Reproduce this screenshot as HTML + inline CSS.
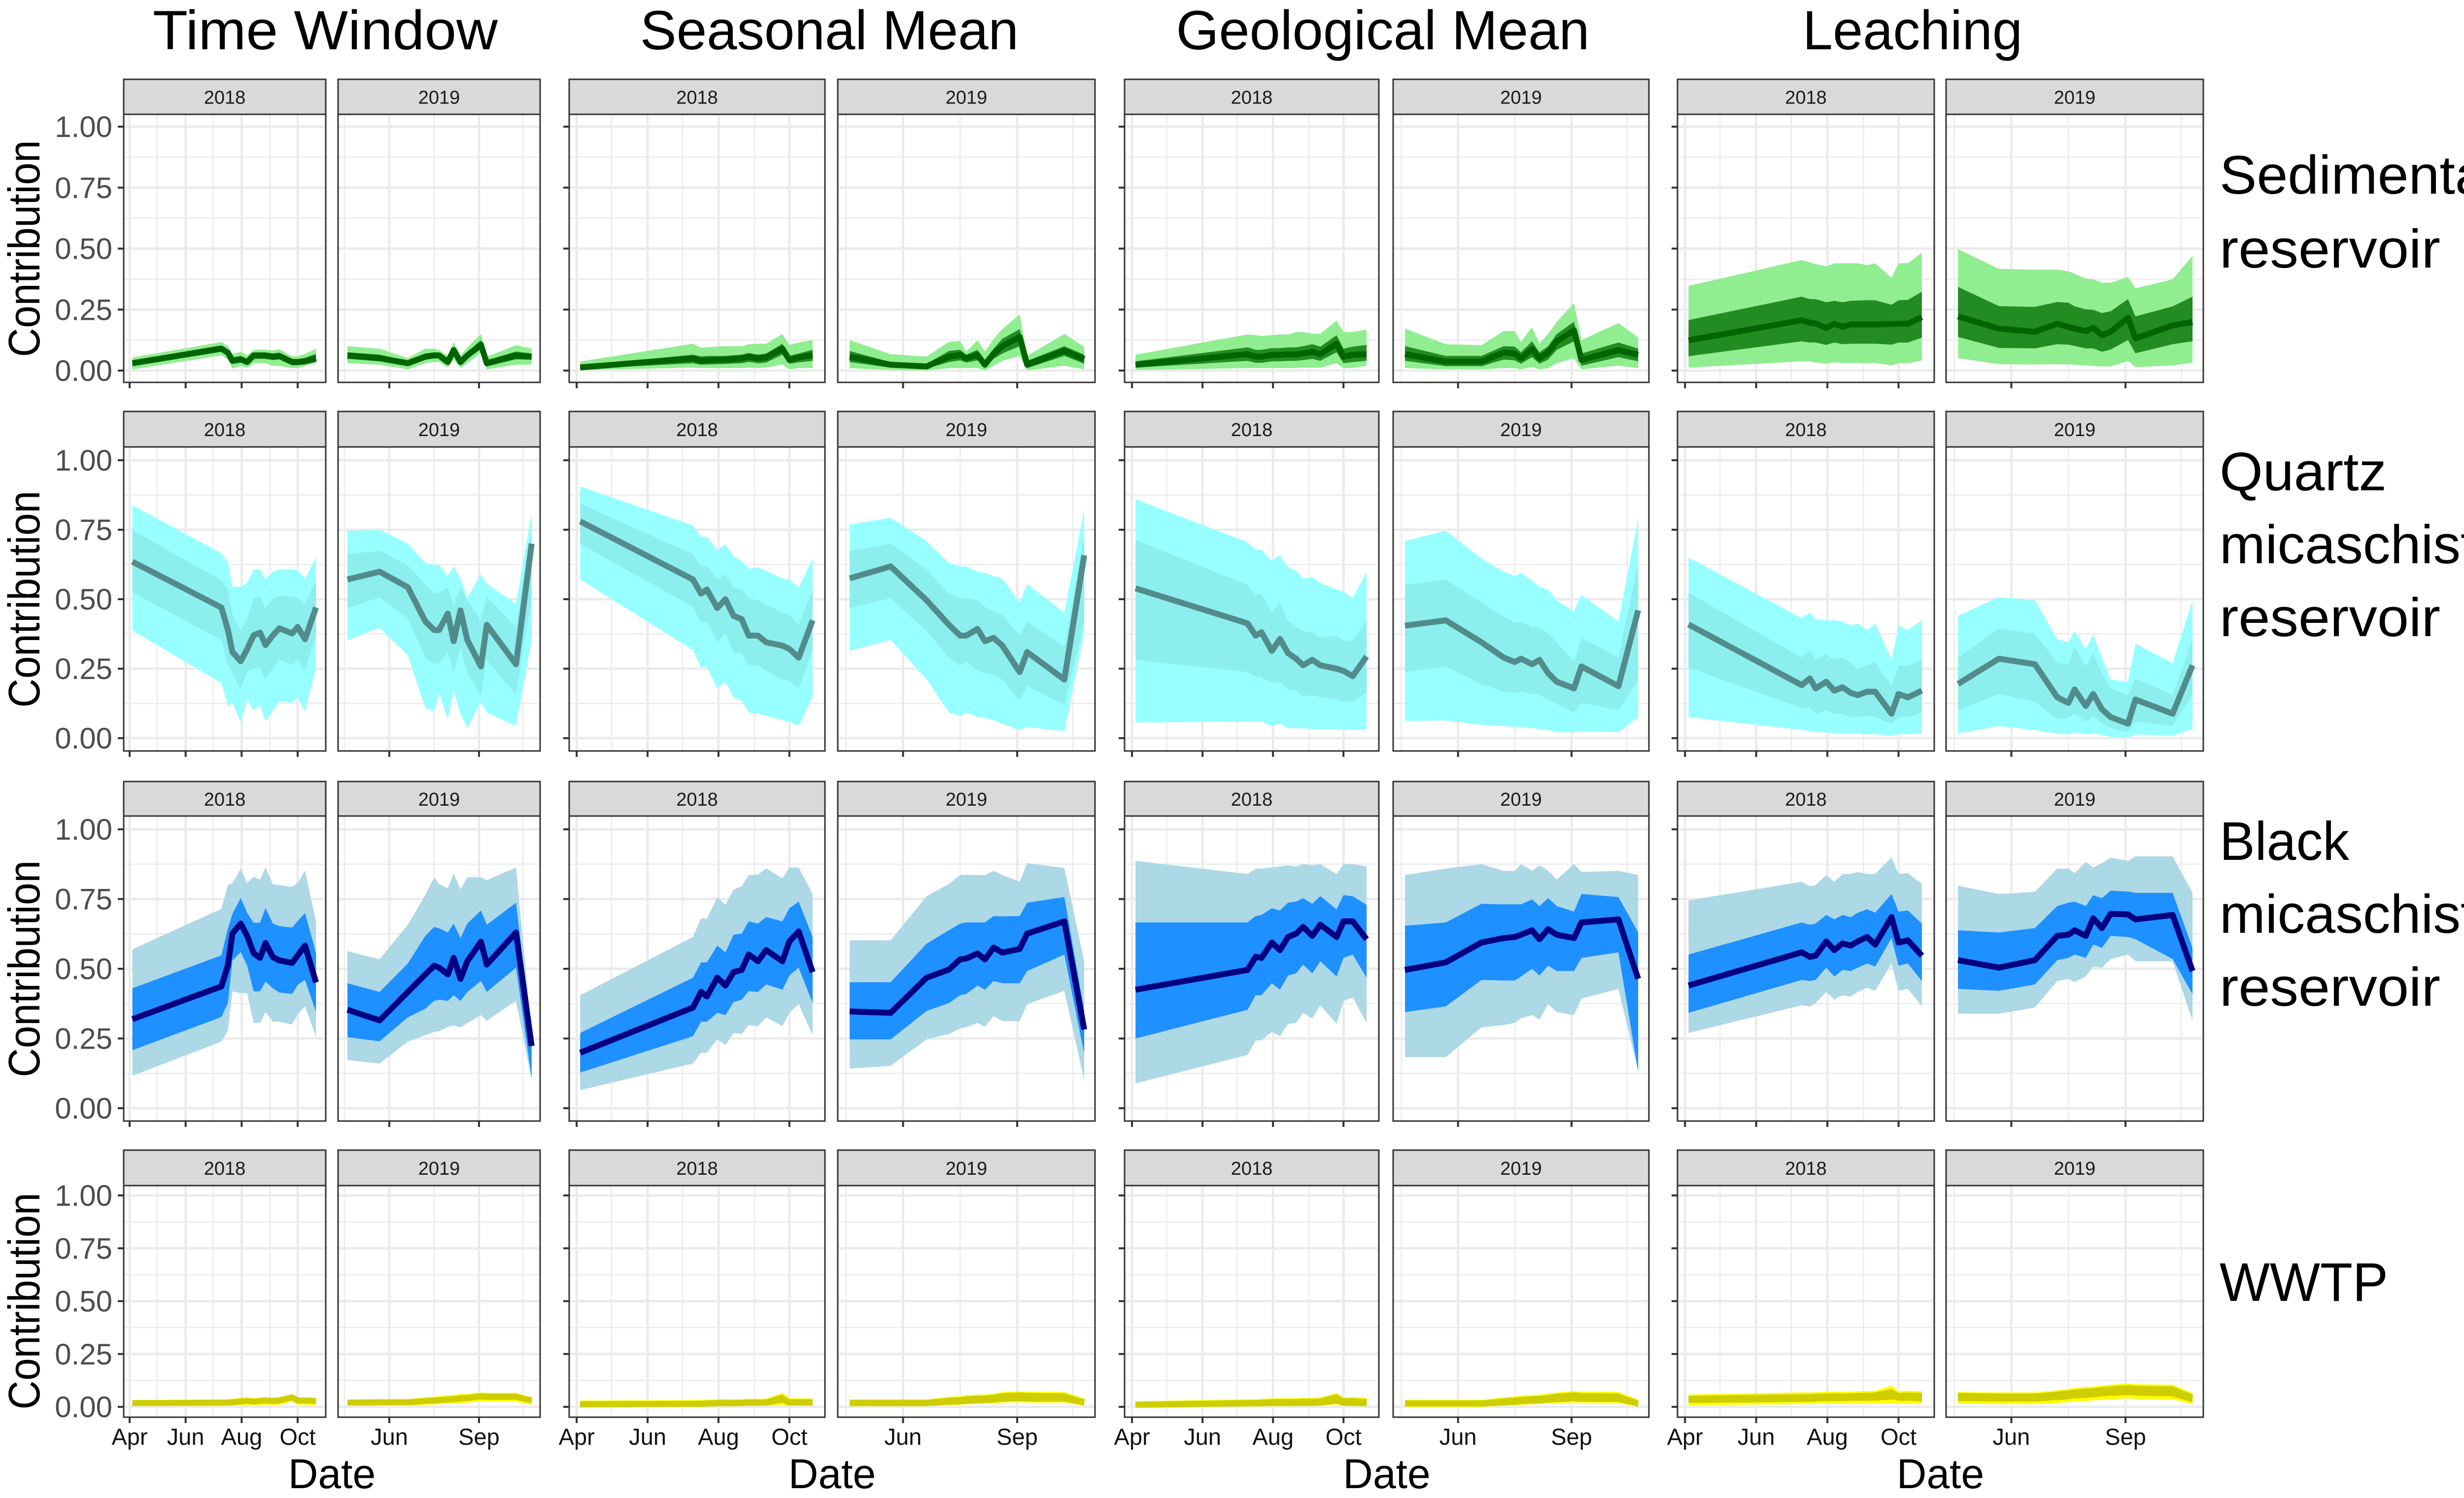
<!DOCTYPE html>
<html>
<head>
<meta charset="utf-8">
<style>
html,body{margin:0;padding:0;background:#fff;}
svg{display:block;}
text{font-family:"Liberation Sans",Arial,sans-serif;}
</style>
</head>
<body>
<svg id="chart" xmlns="http://www.w3.org/2000/svg" width="5160" height="3040" viewBox="0 0 5160 3040">
<rect x="0" y="0" width="5160" height="3040" fill="#ffffff"/>
<g id="titles">
<text x="660" y="100" font-size="112" text-anchor="middle" textLength="700" lengthAdjust="spacingAndGlyphs">Time Window</text>
<text x="1683" y="100" font-size="112" text-anchor="middle" textLength="768" lengthAdjust="spacingAndGlyphs">Seasonal Mean</text>
<text x="2806" y="100" font-size="112" text-anchor="middle" textLength="839" lengthAdjust="spacingAndGlyphs">Geological Mean</text>
<text x="3881" y="100" font-size="112" text-anchor="middle" textLength="446" lengthAdjust="spacingAndGlyphs">Leaching</text>
</g>
<g id="rowlabels" font-size="110">
<text x="4504" y="393" textLength="635" lengthAdjust="spacingAndGlyphs">Sedimentary</text>
<text x="4504" y="543" textLength="448" lengthAdjust="spacingAndGlyphs">reservoir</text>
<text x="4504" y="995" textLength="339" lengthAdjust="spacingAndGlyphs">Quartz</text>
<text x="4504" y="1143" textLength="520" lengthAdjust="spacingAndGlyphs">micaschist</text>
<text x="4504" y="1291" textLength="448" lengthAdjust="spacingAndGlyphs">reservoir</text>
<text x="4504" y="1745" textLength="263" lengthAdjust="spacingAndGlyphs">Black</text>
<text x="4504" y="1893" textLength="520" lengthAdjust="spacingAndGlyphs">micaschist</text>
<text x="4504" y="2041" textLength="448" lengthAdjust="spacingAndGlyphs">reservoir</text>
<text x="4504" y="2640" textLength="342" lengthAdjust="spacingAndGlyphs">WWTP</text>
</g>
</svg>
<script>
// ---------- data ----------
const dates2018 = [93,190,197,202,211,218,225,232,238,246,253,267,273,281,293];
const dates2019 = [108,141,170,188,197,202,211,217,224,231,245,251,281,297];
const yTickValues = [0,0.25,0.5,0.75,1];
const yTickLabels = ["0.00","0.25","0.50","0.75","1.00"];
const xBreaks2018 = [90,151,212,273];
const xBreakLabels2018 = ["Apr","Jun","Aug","Oct"];
const xMinor2018 = [120,181,243];
const xBreaks2019 = [151,243];
const xBreakLabels2019 = ["Jun","Sep"];
const xMinor2019 = [105,197,288];
const stripLabels = ["2018","2019"];

// Sedimentary reservoir
const sedTW18med=[0.03,0.09,0.073,0.04,0.046,0.035,0.062,0.062,0.062,0.057,0.06,0.035,0.035,0.038,0.051];
const sedTW18ihi=[0.042,0.103,0.087,0.054,0.06,0.048,0.074,0.074,0.074,0.07,0.073,0.047,0.047,0.052,0.068];
const sedTW18ilo=[0.018,0.077,0.06,0.027,0.033,0.023,0.048,0.048,0.048,0.043,0.046,0.022,0.022,0.025,0.036];
const sedTW18ohi=[0.054,0.117,0.10,0.068,0.076,0.063,0.084,0.086,0.086,0.082,0.088,0.057,0.059,0.068,0.09];
const sedTW18olo=[0.005,0.062,0.046,0.008,0.019,0.011,0.03,0.03,0.03,0.019,0.019,0.01,0.01,0.019,0.03];
const sedTW19med=[0.062,0.051,0.03,0.057,0.062,0.062,0.035,0.084,0.035,0.062,0.106,0.03,0.062,0.057];
const sedTW19ihi=[0.075,0.065,0.04,0.07,0.075,0.073,0.047,0.098,0.047,0.075,0.125,0.042,0.078,0.07];
const sedTW19ilo=[0.048,0.038,0.018,0.044,0.05,0.05,0.023,0.068,0.022,0.048,0.088,0.017,0.046,0.044];
const sedTW19ohi=[0.10,0.09,0.051,0.09,0.09,0.084,0.062,0.117,0.062,0.095,0.15,0.057,0.104,0.09];
const sedTW19olo=[0.03,0.024,0.005,0.03,0.035,0.035,0.013,0.046,0.01,0.03,0.073,0.005,0.024,0.024];
const sedSM18med=[0.013,0.05,0.04,0.042,0.044,0.045,0.047,0.05,0.057,0.05,0.054,0.09,0.044,0.054,0.064];
const sedSM18ihi=[0.02,0.065,0.058,0.06,0.06,0.06,0.063,0.065,0.072,0.065,0.07,0.11,0.06,0.07,0.085];
const sedSM18ilo=[0.006,0.03,0.024,0.025,0.026,0.027,0.029,0.03,0.036,0.03,0.033,0.065,0.028,0.034,0.04];
const sedSM18ohi=[0.037,0.11,0.094,0.096,0.098,0.10,0.10,0.10,0.108,0.11,0.11,0.15,0.105,0.115,0.125];
const sedSM18olo=[0.002,0.012,0.01,0.01,0.01,0.01,0.01,0.01,0.012,0.01,0.012,0.025,0.005,0.01,0.01];
const sedSM19med=[0.057,0.024,0.017,0.057,0.064,0.05,0.064,0.024,0.07,0.10,0.138,0.024,0.081,0.047];
const sedSM19ihi=[0.08,0.035,0.028,0.08,0.085,0.065,0.085,0.04,0.09,0.13,0.17,0.04,0.10,0.065];
const sedSM19ilo=[0.035,0.012,0.008,0.035,0.042,0.033,0.042,0.01,0.048,0.07,0.1,0.01,0.06,0.028];
const sedSM19ohi=[0.125,0.067,0.057,0.118,0.121,0.077,0.125,0.077,0.13,0.17,0.23,0.06,0.15,0.098];
const sedSM19olo=[0.01,0.002,0.0,0.01,0.01,0.01,0.01,0.0,0.02,0.04,0.06,0.0,0.02,0.005];
const sedGM18med=[0.024,0.067,0.057,0.057,0.064,0.064,0.067,0.065,0.07,0.077,0.067,0.11,0.057,0.064,0.067];
const sedGM18ihi=[0.038,0.095,0.085,0.085,0.092,0.092,0.095,0.095,0.1,0.108,0.098,0.145,0.09,0.098,0.105];
const sedGM18ilo=[0.012,0.04,0.032,0.032,0.038,0.038,0.04,0.04,0.043,0.048,0.04,0.075,0.03,0.035,0.04];
const sedGM18ohi=[0.065,0.148,0.145,0.142,0.145,0.148,0.148,0.158,0.158,0.151,0.151,0.205,0.158,0.158,0.168];
const sedGM18olo=[0.002,0.01,0.01,0.01,0.01,0.01,0.01,0.01,0.012,0.012,0.012,0.03,0.01,0.01,0.02];
const sedGM19med=[0.067,0.037,0.037,0.074,0.07,0.05,0.088,0.05,0.074,0.12,0.165,0.044,0.084,0.064];
const sedGM19ihi=[0.1,0.06,0.06,0.1,0.098,0.075,0.12,0.075,0.1,0.15,0.2,0.07,0.115,0.09];
const sedGM19ilo=[0.04,0.018,0.018,0.045,0.042,0.028,0.055,0.028,0.045,0.085,0.12,0.02,0.055,0.038];
const sedGM19ohi=[0.172,0.108,0.104,0.162,0.162,0.118,0.178,0.11,0.15,0.2,0.276,0.125,0.195,0.135];
const sedGM19olo=[0.01,0.005,0.005,0.01,0.01,0.005,0.015,0.005,0.01,0.03,0.05,0.005,0.02,0.01];
const sedL18med=[0.124,0.206,0.196,0.193,0.175,0.192,0.18,0.189,0.189,0.189,0.189,0.191,0.192,0.192,0.219];
const sedL18ihi=[0.207,0.303,0.293,0.293,0.28,0.286,0.28,0.286,0.287,0.288,0.288,0.27,0.288,0.29,0.323];
const sedL18ilo=[0.059,0.12,0.115,0.115,0.105,0.115,0.108,0.11,0.11,0.11,0.11,0.106,0.115,0.115,0.135];
const sedL18ohi=[0.347,0.453,0.444,0.437,0.427,0.44,0.44,0.44,0.44,0.432,0.44,0.38,0.44,0.44,0.483];
const sedL18olo=[0.012,0.038,0.038,0.033,0.028,0.034,0.031,0.031,0.031,0.031,0.031,0.021,0.03,0.03,0.041];
const sedL19med=[0.222,0.172,0.159,0.192,0.179,0.172,0.162,0.175,0.145,0.159,0.216,0.132,0.185,0.199];
const sedL19ihi=[0.343,0.264,0.261,0.281,0.278,0.263,0.251,0.249,0.236,0.243,0.293,0.222,0.263,0.303];
const sedL19ilo=[0.138,0.093,0.091,0.108,0.106,0.101,0.091,0.091,0.077,0.086,0.125,0.071,0.108,0.12];
const sedL19ohi=[0.498,0.417,0.414,0.414,0.407,0.397,0.377,0.374,0.36,0.36,0.384,0.337,0.374,0.471];
const sedL19olo=[0.051,0.026,0.025,0.026,0.025,0.024,0.021,0.019,0.017,0.017,0.039,0.014,0.021,0.032];

// Quartz micaschist reservoir
const qmsTW18med=[0.635,0.47,0.39,0.31,0.277,0.32,0.37,0.38,0.335,0.37,0.395,0.377,0.40,0.356,0.47];
const qmsTW18ihi=[0.748,0.568,0.533,0.444,0.388,0.427,0.503,0.511,0.466,0.503,0.511,0.51,0.506,0.48,0.568];
const qmsTW18ilo=[0.525,0.353,0.268,0.233,0.176,0.242,0.25,0.254,0.21,0.254,0.282,0.263,0.282,0.242,0.374];
const qmsTW18ohi=[0.838,0.665,0.635,0.545,0.545,0.559,0.607,0.607,0.571,0.60,0.607,0.608,0.603,0.573,0.652];
const qmsTW18olo=[0.388,0.198,0.115,0.127,0.056,0.139,0.10,0.118,0.06,0.10,0.132,0.127,0.148,0.095,0.254];
const qmsTW19med=[0.571,0.599,0.543,0.42,0.389,0.389,0.448,0.349,0.46,0.353,0.258,0.408,0.266,0.70];
const qmsTW19ihi=[0.662,0.674,0.622,0.551,0.523,0.523,0.543,0.476,0.543,0.496,0.424,0.508,0.40,0.75];
const qmsTW19ilo=[0.468,0.507,0.432,0.29,0.266,0.27,0.31,0.234,0.329,0.234,0.155,0.282,0.155,0.5];
const qmsTW19ohi=[0.745,0.75,0.70,0.63,0.624,0.624,0.583,0.618,0.575,0.504,0.59,0.555,0.484,0.81];
const qmsTW19olo=[0.353,0.397,0.298,0.108,0.096,0.163,0.068,0.171,0.088,0.036,0.131,0.092,0.044,0.35];
const qmsSM18med=[0.78,0.571,0.52,0.535,0.468,0.50,0.44,0.428,0.369,0.369,0.345,0.333,0.321,0.29,0.424];
const qmsSM18ihi=[0.844,0.662,0.618,0.622,0.571,0.59,0.543,0.535,0.504,0.496,0.48,0.452,0.444,0.408,0.535];
const qmsSM18ilo=[0.70,0.472,0.416,0.42,0.345,0.377,0.306,0.306,0.262,0.262,0.242,0.211,0.207,0.179,0.314];
const qmsSM18ohi=[0.906,0.765,0.725,0.725,0.678,0.697,0.654,0.638,0.61,0.614,0.602,0.575,0.571,0.543,0.646];
const qmsSM18olo=[0.571,0.317,0.254,0.258,0.179,0.203,0.147,0.135,0.092,0.088,0.08,0.064,0.06,0.044,0.147];
const qmsSM19med=[0.575,0.618,0.496,0.408,0.369,0.369,0.393,0.349,0.361,0.333,0.238,0.31,0.211,0.658];
const qmsSM19ihi=[0.674,0.70,0.606,0.519,0.504,0.504,0.496,0.472,0.456,0.444,0.369,0.42,0.329,0.72];
const qmsSM19ilo=[0.468,0.504,0.385,0.29,0.262,0.274,0.242,0.234,0.226,0.211,0.135,0.187,0.12,0.416];
const qmsSM19ohi=[0.769,0.793,0.709,0.63,0.618,0.618,0.599,0.595,0.583,0.575,0.488,0.555,0.452,0.824];
const qmsSM19olo=[0.314,0.353,0.211,0.092,0.08,0.092,0.076,0.072,0.064,0.052,0.029,0.04,0.025,0.38];
const qmsGM18med=[0.539,0.413,0.369,0.381,0.314,0.357,0.306,0.286,0.262,0.282,0.262,0.25,0.242,0.223,0.294];
const qmsGM18ihi=[0.713,0.551,0.516,0.519,0.456,0.484,0.424,0.40,0.385,0.381,0.361,0.369,0.353,0.349,0.424];
const qmsGM18ilo=[0.282,0.238,0.222,0.218,0.199,0.203,0.175,0.171,0.151,0.155,0.147,0.139,0.131,0.131,0.163];
const qmsGM18ohi=[0.86,0.705,0.678,0.678,0.638,0.658,0.614,0.602,0.575,0.579,0.559,0.535,0.527,0.504,0.598];
const qmsGM18olo=[0.056,0.06,0.06,0.06,0.044,0.052,0.036,0.036,0.036,0.032,0.032,0.032,0.032,0.029,0.032];
const qmsGM19med=[0.405,0.424,0.345,0.29,0.274,0.286,0.266,0.282,0.234,0.203,0.179,0.258,0.187,0.46];
const qmsGM19ihi=[0.551,0.571,0.488,0.436,0.416,0.416,0.40,0.397,0.377,0.345,0.274,0.361,0.29,0.63];
const qmsGM19ilo=[0.238,0.258,0.195,0.167,0.163,0.167,0.159,0.155,0.139,0.123,0.092,0.127,0.10,0.211];
const qmsGM19ohi=[0.709,0.747,0.646,0.599,0.583,0.595,0.567,0.543,0.535,0.496,0.456,0.515,0.42,0.79];
const qmsGM19olo=[0.062,0.064,0.048,0.044,0.04,0.04,0.036,0.032,0.029,0.021,0.021,0.025,0.021,0.076];
const qmsL18med=[0.409,0.191,0.215,0.179,0.203,0.171,0.183,0.163,0.155,0.167,0.167,0.088,0.159,0.147,0.171];
const qmsL18ihi=[0.523,0.29,0.317,0.282,0.302,0.282,0.29,0.27,0.25,0.262,0.274,0.187,0.262,0.258,0.282];
const qmsL18ilo=[0.254,0.108,0.112,0.088,0.10,0.088,0.088,0.076,0.076,0.08,0.076,0.052,0.076,0.076,0.092];
const qmsL18ohi=[0.65,0.432,0.452,0.428,0.424,0.424,0.42,0.405,0.413,0.389,0.413,0.282,0.405,0.389,0.424];
const qmsL18olo=[0.076,0.029,0.025,0.021,0.021,0.017,0.017,0.017,0.017,0.014,0.014,0.009,0.014,0.014,0.017];
const qmsL19med=[0.195,0.286,0.266,0.147,0.127,0.175,0.116,0.159,0.104,0.076,0.052,0.139,0.088,0.262];
const qmsL19ihi=[0.29,0.393,0.377,0.27,0.266,0.329,0.258,0.306,0.234,0.179,0.155,0.215,0.155,0.353];
const qmsL19ilo=[0.10,0.159,0.131,0.068,0.072,0.088,0.06,0.08,0.052,0.036,0.021,0.06,0.044,0.155];
const qmsL19ohi=[0.44,0.508,0.496,0.357,0.345,0.385,0.321,0.373,0.29,0.211,0.203,0.341,0.27,0.496];
const qmsL19olo=[0.017,0.044,0.029,0.017,0.014,0.021,0.013,0.017,0.011,0.005,0.003,0.013,0.009,0.032];

// Black micaschist reservoir
const bmsTW18med=[0.319,0.437,0.512,0.627,0.662,0.618,0.556,0.539,0.592,0.542,0.53,0.521,0.548,0.583,0.451];
const bmsTW18ihi=[0.43,0.548,0.644,0.697,0.754,0.70,0.665,0.665,0.718,0.662,0.653,0.648,0.671,0.70,0.556];
const bmsTW18ilo=[0.208,0.327,0.377,0.53,0.56,0.512,0.419,0.419,0.454,0.43,0.415,0.41,0.442,0.46,0.345];
const bmsTW18ohi=[0.57,0.715,0.80,0.807,0.859,0.807,0.83,0.82,0.864,0.803,0.80,0.794,0.807,0.852,0.67];
const bmsTW18olo=[0.116,0.239,0.278,0.419,0.412,0.412,0.306,0.306,0.345,0.31,0.31,0.30,0.336,0.366,0.257];
const bmsTW19med=[0.353,0.315,0.417,0.48,0.511,0.504,0.48,0.539,0.464,0.527,0.597,0.515,0.63,0.223];
const bmsTW19ihi=[0.448,0.417,0.519,0.618,0.65,0.645,0.63,0.662,0.61,0.662,0.709,0.658,0.737,0.26];
const bmsTW19ilo=[0.255,0.24,0.326,0.357,0.385,0.389,0.385,0.405,0.385,0.417,0.456,0.417,0.504,0.108];
const bmsTW19ohi=[0.563,0.534,0.658,0.765,0.828,0.804,0.788,0.842,0.785,0.828,0.828,0.818,0.863,0.27];
const bmsTW19olo=[0.173,0.16,0.239,0.262,0.274,0.276,0.292,0.297,0.29,0.305,0.334,0.314,0.385,0.10];
const bmsSM18med=[0.199,0.361,0.417,0.401,0.468,0.44,0.488,0.496,0.551,0.527,0.567,0.527,0.598,0.634,0.488];
const bmsSM18ihi=[0.27,0.468,0.523,0.523,0.583,0.559,0.622,0.626,0.67,0.662,0.685,0.67,0.717,0.741,0.614];
const bmsSM18ilo=[0.128,0.258,0.31,0.31,0.342,0.334,0.381,0.389,0.42,0.417,0.444,0.425,0.476,0.504,0.377];
const bmsSM18ohi=[0.405,0.614,0.681,0.679,0.757,0.729,0.784,0.796,0.836,0.837,0.86,0.824,0.863,0.863,0.768];
const bmsSM18olo=[0.065,0.16,0.199,0.199,0.247,0.227,0.27,0.266,0.298,0.294,0.326,0.294,0.342,0.373,0.262];
const bmsSM19med=[0.347,0.342,0.468,0.497,0.534,0.537,0.555,0.534,0.576,0.558,0.571,0.626,0.67,0.282];
const bmsSM19ihi=[0.452,0.452,0.59,0.638,0.662,0.666,0.666,0.666,0.689,0.688,0.689,0.737,0.757,0.35];
const bmsSM19ilo=[0.247,0.247,0.349,0.377,0.405,0.41,0.44,0.425,0.456,0.448,0.448,0.492,0.551,0.195];
const bmsSM19ohi=[0.602,0.602,0.76,0.804,0.836,0.837,0.836,0.836,0.851,0.836,0.812,0.879,0.861,0.527];
const bmsSM19olo=[0.142,0.152,0.247,0.266,0.286,0.29,0.306,0.292,0.33,0.312,0.312,0.373,0.421,0.10];
const bmsGM18med=[0.425,0.496,0.543,0.539,0.594,0.567,0.614,0.626,0.65,0.618,0.658,0.614,0.67,0.67,0.606];
const bmsGM18ihi=[0.666,0.666,0.689,0.693,0.717,0.709,0.737,0.741,0.753,0.733,0.76,0.713,0.764,0.76,0.729];
const bmsGM18ilo=[0.25,0.353,0.405,0.405,0.448,0.425,0.476,0.484,0.515,0.484,0.527,0.472,0.539,0.551,0.468];
const bmsGM18ohi=[0.887,0.84,0.859,0.859,0.863,0.867,0.871,0.867,0.875,0.871,0.875,0.84,0.875,0.875,0.867];
const bmsGM18olo=[0.089,0.191,0.243,0.243,0.274,0.258,0.302,0.306,0.342,0.322,0.369,0.302,0.385,0.397,0.306];
const bmsGM19med=[0.496,0.523,0.594,0.61,0.614,0.622,0.638,0.606,0.642,0.622,0.61,0.666,0.677,0.464];
const bmsGM19ihi=[0.654,0.666,0.733,0.731,0.731,0.731,0.749,0.725,0.753,0.725,0.705,0.768,0.757,0.63];
const bmsGM19ilo=[0.345,0.365,0.46,0.458,0.458,0.472,0.50,0.476,0.511,0.492,0.492,0.539,0.559,0.132];
const bmsGM19ohi=[0.836,0.859,0.875,0.851,0.851,0.875,0.851,0.871,0.851,0.82,0.875,0.847,0.851,0.836];
const bmsGM19olo=[0.183,0.183,0.29,0.298,0.306,0.322,0.334,0.318,0.373,0.345,0.334,0.393,0.428,0.132];
const bmsL18med=[0.44,0.559,0.543,0.547,0.598,0.567,0.591,0.583,0.598,0.614,0.587,0.685,0.594,0.602,0.547];
const bmsL18ihi=[0.551,0.666,0.658,0.662,0.693,0.677,0.693,0.685,0.701,0.713,0.701,0.768,0.705,0.709,0.662];
const bmsL18ilo=[0.342,0.46,0.456,0.46,0.504,0.472,0.496,0.492,0.504,0.519,0.508,0.61,0.511,0.519,0.456];
const bmsL18ohi=[0.745,0.812,0.796,0.80,0.836,0.812,0.84,0.84,0.847,0.84,0.84,0.899,0.84,0.843,0.804];
const bmsL18olo=[0.27,0.369,0.365,0.377,0.417,0.389,0.405,0.40,0.417,0.432,0.421,0.519,0.421,0.428,0.365];
const bmsL19med=[0.531,0.504,0.531,0.618,0.622,0.638,0.618,0.681,0.646,0.697,0.695,0.677,0.693,0.492];
const bmsL19ihi=[0.638,0.63,0.646,0.725,0.737,0.741,0.725,0.764,0.753,0.78,0.777,0.772,0.772,0.575];
const bmsL19ilo=[0.428,0.421,0.444,0.531,0.539,0.551,0.539,0.587,0.575,0.618,0.614,0.606,0.535,0.409];
const bmsL19ohi=[0.798,0.768,0.776,0.859,0.859,0.843,0.883,0.863,0.879,0.899,0.887,0.903,0.903,0.772];
const bmsL19olo=[0.339,0.339,0.361,0.456,0.464,0.452,0.472,0.508,0.504,0.535,0.551,0.527,0.527,0.314];

// WWTP
const wwTW18med=[0.018,0.02,0.02,0.022,0.026,0.028,0.025,0.028,0.03,0.028,0.03,0.045,0.03,0.03,0.028];
const wwTW18ihi=[0.028,0.03,0.03,0.032,0.037,0.04,0.036,0.04,0.042,0.04,0.042,0.056,0.04,0.04,0.038];
const wwTW18ilo=[0.008,0.009,0.009,0.01,0.014,0.015,0.013,0.015,0.017,0.015,0.017,0.032,0.018,0.018,0.016];
const wwTW18ohi=[0.032,0.034,0.035,0.038,0.042,0.045,0.04,0.044,0.046,0.044,0.046,0.06,0.045,0.045,0.042];
const wwTW18olo=[0.004,0.004,0.004,0.005,0.008,0.009,0.007,0.009,0.01,0.009,0.01,0.025,0.01,0.01,0.008];
const wwTW19med=[0.02,0.022,0.022,0.028,0.03,0.032,0.035,0.036,0.04,0.042,0.05,0.048,0.048,0.03];
const wwTW19ihi=[0.03,0.032,0.032,0.04,0.043,0.045,0.05,0.05,0.055,0.056,0.063,0.06,0.06,0.04];
const wwTW19ilo=[0.01,0.012,0.012,0.016,0.018,0.019,0.021,0.022,0.025,0.028,0.035,0.033,0.033,0.018];
const wwTW19ohi=[0.034,0.036,0.036,0.045,0.048,0.05,0.055,0.056,0.06,0.062,0.068,0.066,0.066,0.045];
const wwTW19olo=[0.005,0.006,0.006,0.01,0.012,0.013,0.015,0.016,0.018,0.02,0.025,0.024,0.024,0.01];
const wwSM18med=[0.012,0.014,0.014,0.015,0.017,0.018,0.017,0.018,0.02,0.019,0.02,0.035,0.02,0.021,0.02];
const wwSM18ihi=[0.026,0.028,0.029,0.03,0.032,0.033,0.032,0.033,0.035,0.034,0.035,0.058,0.036,0.036,0.035];
const wwSM18ilo=[0.002,0.004,0.004,0.004,0.005,0.006,0.005,0.006,0.007,0.006,0.008,0.02,0.008,0.008,0.007];
const wwSM18ohi=[0.03,0.032,0.033,0.034,0.036,0.037,0.036,0.037,0.038,0.038,0.039,0.066,0.04,0.04,0.039];
const wwSM18olo=[0,0.002,0.002,0.002,0.003,0.003,0.003,0.004,0.005,0.004,0.005,0.01,0.005,0.005,0.005];
const wwSM19med=[0.018,0.018,0.018,0.025,0.028,0.03,0.034,0.034,0.038,0.042,0.045,0.044,0.044,0.022];
const wwSM19ihi=[0.033,0.033,0.033,0.043,0.046,0.05,0.053,0.053,0.058,0.064,0.068,0.066,0.064,0.035];
const wwSM19ilo=[0.004,0.004,0.004,0.01,0.012,0.014,0.017,0.018,0.02,0.024,0.027,0.025,0.025,0.006];
const wwSM19ohi=[0.035,0.035,0.035,0.048,0.05,0.055,0.058,0.058,0.063,0.07,0.074,0.072,0.07,0.04];
const wwSM19olo=[0.003,0.003,0.003,0.008,0.01,0.012,0.014,0.015,0.017,0.02,0.022,0.02,0.02,0.005];
const wwGM18med=[0.01,0.016,0.016,0.017,0.019,0.02,0.019,0.02,0.022,0.021,0.022,0.038,0.022,0.023,0.02];
const wwGM18ihi=[0.024,0.032,0.032,0.034,0.036,0.037,0.036,0.037,0.039,0.038,0.04,0.06,0.04,0.041,0.037];
const wwGM18ilo=[0,0.003,0.003,0.003,0.004,0.004,0.004,0.005,0.005,0.005,0.006,0.015,0.005,0.005,0.003];
const wwGM18ohi=[0.026,0.036,0.036,0.038,0.04,0.041,0.04,0.041,0.043,0.042,0.044,0.066,0.045,0.046,0.042];
const wwGM18olo=[0,0.002,0.002,0.002,0.003,0.003,0.003,0.004,0.004,0.004,0.005,0.012,0.004,0.004,0.002];
const wwGM19med=[0.016,0.016,0.016,0.022,0.026,0.028,0.032,0.033,0.036,0.04,0.045,0.043,0.042,0.015];
const wwGM19ihi=[0.03,0.03,0.03,0.04,0.044,0.047,0.05,0.052,0.056,0.062,0.068,0.065,0.063,0.03];
const wwGM19ilo=[0.002,0.002,0.002,0.007,0.01,0.012,0.015,0.016,0.019,0.022,0.026,0.024,0.023,0.002];
const wwGM19ohi=[0.033,0.033,0.033,0.045,0.049,0.053,0.056,0.058,0.062,0.068,0.075,0.072,0.07,0.034];
const wwGM19olo=[0,0,0,0.005,0.008,0.01,0.012,0.013,0.016,0.018,0.02,0.019,0.018,0];
const wwL18med=[0.035,0.042,0.042,0.043,0.045,0.046,0.045,0.046,0.048,0.047,0.048,0.065,0.046,0.048,0.045];
const wwL18ihi=[0.052,0.06,0.06,0.061,0.063,0.064,0.063,0.064,0.066,0.066,0.068,0.085,0.066,0.068,0.066];
const wwL18ilo=[0.018,0.024,0.024,0.025,0.027,0.027,0.027,0.028,0.029,0.028,0.029,0.035,0.029,0.029,0.026];
const wwL18ohi=[0.058,0.068,0.068,0.069,0.071,0.072,0.071,0.072,0.074,0.074,0.076,0.1,0.074,0.076,0.074];
const wwL18olo=[0.008,0.013,0.013,0.014,0.015,0.015,0.015,0.016,0.017,0.016,0.017,0.017,0.017,0.017,0.014];
const wwL19med=[0.045,0.043,0.043,0.05,0.055,0.058,0.062,0.063,0.068,0.07,0.075,0.072,0.07,0.04];
const wwL19ihi=[0.066,0.063,0.063,0.072,0.078,0.082,0.087,0.088,0.093,0.097,0.103,0.099,0.097,0.058];
const wwL19ilo=[0.027,0.025,0.025,0.032,0.036,0.04,0.043,0.045,0.05,0.052,0.056,0.053,0.05,0.02];
const wwL19ohi=[0.07,0.068,0.068,0.078,0.085,0.09,0.094,0.096,0.1,0.105,0.11,0.107,0.105,0.065];
const wwL19olo=[0.015,0.013,0.013,0.018,0.022,0.025,0.028,0.03,0.034,0.036,0.04,0.038,0.036,0.012];

// panel lookup: [row][group][year] -> [med, ihi, ilo, ohi, olo]
const panelSeries = [
 [[[sedTW18med,sedTW18ihi,sedTW18ilo,sedTW18ohi,sedTW18olo],[sedTW19med,sedTW19ihi,sedTW19ilo,sedTW19ohi,sedTW19olo]],
  [[sedSM18med,sedSM18ihi,sedSM18ilo,sedSM18ohi,sedSM18olo],[sedSM19med,sedSM19ihi,sedSM19ilo,sedSM19ohi,sedSM19olo]],
  [[sedGM18med,sedGM18ihi,sedGM18ilo,sedGM18ohi,sedGM18olo],[sedGM19med,sedGM19ihi,sedGM19ilo,sedGM19ohi,sedGM19olo]],
  [[sedL18med,sedL18ihi,sedL18ilo,sedL18ohi,sedL18olo],[sedL19med,sedL19ihi,sedL19ilo,sedL19ohi,sedL19olo]]],
 [[[qmsTW18med,qmsTW18ihi,qmsTW18ilo,qmsTW18ohi,qmsTW18olo],[qmsTW19med,qmsTW19ihi,qmsTW19ilo,qmsTW19ohi,qmsTW19olo]],
  [[qmsSM18med,qmsSM18ihi,qmsSM18ilo,qmsSM18ohi,qmsSM18olo],[qmsSM19med,qmsSM19ihi,qmsSM19ilo,qmsSM19ohi,qmsSM19olo]],
  [[qmsGM18med,qmsGM18ihi,qmsGM18ilo,qmsGM18ohi,qmsGM18olo],[qmsGM19med,qmsGM19ihi,qmsGM19ilo,qmsGM19ohi,qmsGM19olo]],
  [[qmsL18med,qmsL18ihi,qmsL18ilo,qmsL18ohi,qmsL18olo],[qmsL19med,qmsL19ihi,qmsL19ilo,qmsL19ohi,qmsL19olo]]],
 [[[bmsTW18med,bmsTW18ihi,bmsTW18ilo,bmsTW18ohi,bmsTW18olo],[bmsTW19med,bmsTW19ihi,bmsTW19ilo,bmsTW19ohi,bmsTW19olo]],
  [[bmsSM18med,bmsSM18ihi,bmsSM18ilo,bmsSM18ohi,bmsSM18olo],[bmsSM19med,bmsSM19ihi,bmsSM19ilo,bmsSM19ohi,bmsSM19olo]],
  [[bmsGM18med,bmsGM18ihi,bmsGM18ilo,bmsGM18ohi,bmsGM18olo],[bmsGM19med,bmsGM19ihi,bmsGM19ilo,bmsGM19ohi,bmsGM19olo]],
  [[bmsL18med,bmsL18ihi,bmsL18ilo,bmsL18ohi,bmsL18olo],[bmsL19med,bmsL19ihi,bmsL19ilo,bmsL19ohi,bmsL19olo]]],
 [[[wwTW18med,wwTW18ihi,wwTW18ilo,wwTW18ohi,wwTW18olo],[wwTW19med,wwTW19ihi,wwTW19ilo,wwTW19ohi,wwTW19olo]],
  [[wwSM18med,wwSM18ihi,wwSM18ilo,wwSM18ohi,wwSM18olo],[wwSM19med,wwSM19ihi,wwSM19ilo,wwSM19ohi,wwSM19olo]],
  [[wwGM18med,wwGM18ihi,wwGM18ilo,wwGM18ohi,wwGM18olo],[wwGM19med,wwGM19ihi,wwGM19ilo,wwGM19ohi,wwGM19olo]],
  [[wwL18med,wwL18ihi,wwL18ilo,wwL18ohi,wwL18olo],[wwL19med,wwL19ihi,wwL19ilo,wwL19ohi,wwL19olo]]]
];

// ---------- layout ----------
const rowNames = ["sedimentary","quartz-micaschist","black-micaschist","wwtp"];
const groupNames = ["time-window","seasonal-mean","geological-mean","leaching"];
const rowLayout = [
 {st:161, sb:232, y1:257, y0:752, pb:776},
 {st:835, sb:907, y1:934, y0:1498, pb:1524},
 {st:1586, sb:1656, y1:1683, y0:2249, pb:2275},
 {st:2334, sb:2406, y1:2426, y0:2855, pb:2876}
];
const rowColors = [
 ["#90EE90","#228B22","#006400"],
 ["#97FFFF","#8DEEEE","#528B8B"],
 ["#ADD8E6","#1E90FF","#000080"],
 ["#FFFF00","#CDCD00","#CDCD00"]
];
const groupX = [[251,661,686,1096],[1155,1674,1700,2222],[2282,2798,2827,3346],[3404,3925,3949,4471]];
const domains = [[83.55,303.6],[98.4,305.7]];

const NS = "http://www.w3.org/2000/svg";
const svg = document.getElementById("chart");
function mk(tag, attrs, parent){
  const e = document.createElementNS(NS, tag);
  for (const k in attrs) e.setAttribute(k, attrs[k]);
  (parent || svg).appendChild(e);
  return e;
}
function xScale(day, x0, x1, yi){ const d = domains[yi]; return x0 + (day - d[0]) / (d[1] - d[0]) * (x1 - x0); }
function yScale(v, L){ return L.y0 - v * (L.y0 - L.y1); }

for (let r = 0; r < 4; r++) {
  const L = rowLayout[r];
  const C = rowColors[r];
  // y-axis title
  const cy = (L.y1 + L.y0) / 2;
  const yt = mk("text", {x: 80, y: cy, "font-size": 90, "text-anchor": "middle", transform: "rotate(-90 80 " + cy + ")", textLength: 440, lengthAdjust: "spacingAndGlyphs", fill: "#000"});
  
  
  yt.textContent = "Contribution";

  for (let g = 0; g < 4; g++) {
    for (let yi = 0; yi < 2; yi++) {
      const x0 = groupX[g][yi * 2], x1 = groupX[g][yi * 2 + 1];
      const dates = yi === 0 ? dates2018 : dates2019;
      const breaks = yi === 0 ? xBreaks2018 : xBreaks2019;
      const blabels = yi === 0 ? xBreakLabels2018 : xBreakLabels2019;
      const minors = yi === 0 ? xMinor2018 : xMinor2019;
      const S = panelSeries[r][g][yi];
      const pg = mk("g", {});
      
      

      // strip
      const strip = mk("rect", {x: x0, y: L.st, width: x1 - x0, height: L.sb - L.st, fill: "#d9d9d9", stroke: "#333333", "stroke-width": 3}, pg);
      
      
      const stxt = mk("text", {x: (x0 + x1) / 2, y: (L.st + L.sb) / 2 + 14, "font-size": 38, "text-anchor": "middle", fill: "#1a1a1a"}, pg);
      
      
      stxt.textContent = stripLabels[yi];

      // grid
      const gg = mk("g", {}, pg);
      
      
      [0.125, 0.375, 0.625, 0.875].forEach(v => {
        mk("line", {x1: x0, x2: x1, y1: yScale(v, L), y2: yScale(v, L), stroke: "#ebebeb", "stroke-width": 2.5}, gg);
      });
      minors.forEach(d => {
        const xx = xScale(d, x0, x1, yi);
        if (xx > x0 && xx < x1) mk("line", {x1: xx, x2: xx, y1: L.sb, y2: L.pb, stroke: "#ebebeb", "stroke-width": 2.5}, gg);
      });
      yTickValues.forEach(v => {
        mk("line", {x1: x0, x2: x1, y1: yScale(v, L), y2: yScale(v, L), stroke: "#ebebeb", "stroke-width": 5}, gg);
      });
      breaks.forEach(d => {
        const xx = xScale(d, x0, x1, yi);
        mk("line", {x1: xx, x2: xx, y1: L.sb, y2: L.pb, stroke: "#ebebeb", "stroke-width": 5}, gg);
      });

      // bands
      function band(hi, lo, col, name) {
        let pts = [];
        for (let i = 0; i < dates.length; i++) pts.push(xScale(dates[i], x0, x1, yi).toFixed(1) + "," + yScale(hi[i], L).toFixed(1));
        for (let i = dates.length - 1; i >= 0; i--) pts.push(xScale(dates[i], x0, x1, yi).toFixed(1) + "," + yScale(lo[i], L).toFixed(1));
        const p = mk("polygon", {points: pts.join(" "), fill: col}, pg);
        
        
      }
      band(S[3], S[4], C[0], 'outer-interval-band');
      band(S[1], S[2], C[1], 'inner-interval-band');
      let mp = [];
      for (let i = 0; i < dates.length; i++) mp.push(xScale(dates[i], x0, x1, yi).toFixed(1) + "," + yScale(S[0][i], L).toFixed(1));
      const ml = mk("polyline", {points: mp.join(" "), fill: "none", stroke: C[2], "stroke-width": 12, "stroke-linejoin": "round"}, pg);
      
      

      // border
      const bd = mk("rect", {x: x0, y: L.sb, width: x1 - x0, height: L.pb - L.sb, fill: "none", stroke: "#333333", "stroke-width": 3}, pg);
      
      

      // y ticks
      if (yi === 0) {
        yTickValues.forEach((v, k) => {
          const yy = yScale(v, L);
          const tk = mk("line", {x1: x0 - 12, x2: x0, y1: yy, y2: yy, stroke: "#333333", "stroke-width": 4}, pg);
          
          
          if (g === 0) {
            const tl = mk("text", {x: 228, y: yy + 21, "font-size": 60, "text-anchor": "end", fill: "#4d4d4d"}, pg);
            
            
            tl.textContent = yTickLabels[k];
          }
        });
      }
      // x ticks
      breaks.forEach((d, k) => {
        const xx = xScale(d, x0, x1, yi);
        const tk = mk("line", {x1: xx, x2: xx, y1: L.pb, y2: L.pb + 12, stroke: "#333333", "stroke-width": 4}, pg);
        
        
        if (r === 3) {
          const tl = mk("text", {x: xx, y: 2932, "font-size": 47, "text-anchor": "middle", fill: "#111"}, pg);
          
          
          tl.textContent = blabels[k];
        }
      });
    }
    if (r === 3) {
      const dx = (groupX[g][0] + groupX[g][3]) / 2;
      const dt = mk("text", {x: dx, y: 3020, "font-size": 84, "text-anchor": "middle", fill: "#000"});
      
      
      dt.textContent = "Date";
    }
  }
}
</script>
</body>
</html>
